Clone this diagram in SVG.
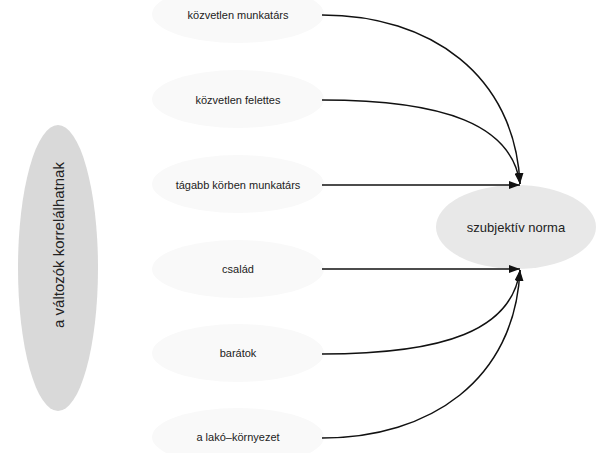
<svg xmlns="http://www.w3.org/2000/svg" width="597" height="453" viewBox="0 0 597 453">
<style>
.src ellipse{fill:#f9f9f9;stroke:none}
.src text{font-family:"Liberation Sans",Arial,sans-serif;font-size:11px;fill:#222;text-anchor:middle}
.edge{fill:none;stroke:#111;stroke-width:1.5;marker-end:url(#arr)}
</style>
<defs>
<marker id="arr" viewBox="0 0 11 8" refX="11" refY="4" markerWidth="11" markerHeight="8" markerUnits="userSpaceOnUse" orient="auto">
<path d="M0,0 L11,4 L0,8 Z" fill="#111"/>
</marker>
</defs>
<rect width="597" height="453" fill="#fff"/>
<g id="corr">
<ellipse cx="58" cy="268" rx="40" ry="143" fill="#d9d9d9"/>
<text transform="translate(64,245) rotate(-90)" font-family="'Liberation Sans',Arial,sans-serif" font-size="15" fill="#222" text-anchor="middle">a változók korrelálhatnak</text>
</g>
<g id="norma">
<ellipse cx="516" cy="227" rx="80" ry="42" fill="#e8e8e8"/>
<text x="516" y="232" font-family="'Liberation Sans',Arial,sans-serif" font-size="13" fill="#222" text-anchor="middle">szubjektív norma</text>
</g>
<g id="n1" class="src"><ellipse cx="238" cy="14" rx="86" ry="29"/><text x="238" y="19">közvetlen munkatárs</text></g>
<g id="n2" class="src"><ellipse cx="238" cy="99" rx="86" ry="29"/><text x="238" y="104">közvetlen felettes</text></g>
<g id="n3" class="src"><ellipse cx="238" cy="184" rx="86" ry="29"/><text x="238" y="189">tágabb körben munkatárs</text></g>
<g id="n4" class="src"><ellipse cx="238" cy="269" rx="86" ry="29"/><text x="238" y="273">család</text></g>
<g id="n5" class="src"><ellipse cx="238" cy="353" rx="86" ry="29"/><text x="238" y="357">barátok</text></g>
<g id="n6" class="src"><ellipse cx="238" cy="437" rx="86" ry="29"/><text x="238" y="441">a lakó–környezet</text></g>
<g id="connectors">
<path class="edge" d="M322,15 C430,15 515,75 520,184"/>
<path class="edge" d="M322,100 C445,100 512,125 520,184"/>
<path class="edge" d="M322,185 L520,185"/>
<path class="edge" d="M322,269 L520,269"/>
<path class="edge" d="M322,354 C445,354 512,330 520,270"/>
<path class="edge" d="M322,438 C430,438 515,380 520,270"/>
</g>
</svg>
